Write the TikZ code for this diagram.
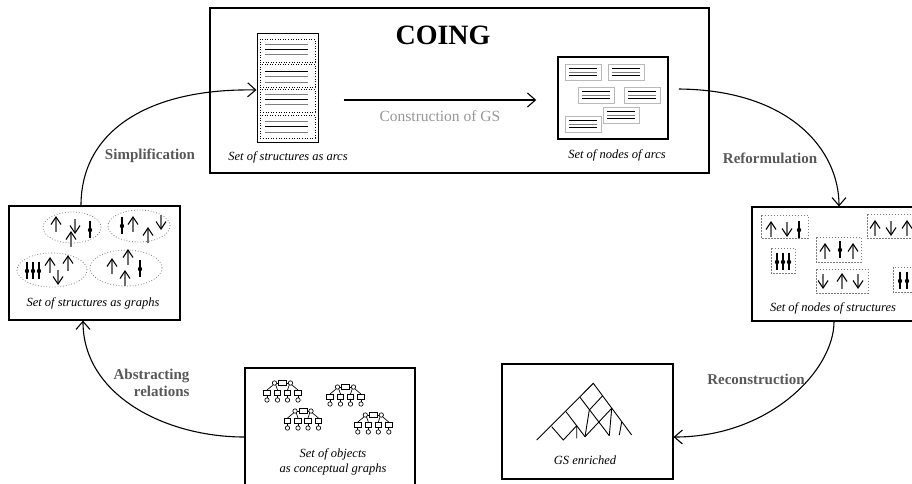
\documentclass[tikz,border=0pt]{standalone}
\usepackage{fontspec}
\setmainfont{Liberation Serif}
\usetikzlibrary{arrows.meta,calc}
\definecolor{lblgray}{RGB}{88,88,88}
\definecolor{cstgray}{RGB}{150,150,150}
\definecolor{stemgray}{RGB}{110,110,110}
\definecolor{linegray}{RGB}{125,125,125}
\definecolor{framegray}{RGB}{185,185,185}
\tikzset{
  upglyph/.pic={
    \draw[line width=1.1pt, stemgray] (0,-6.5) -- (0,7.5);
    \draw[line width=1.1pt] (-5,0.5) -- (0,-7) -- (5,0.5);
  },
  downglyph/.pic={
    \draw[line width=1.1pt, stemgray] (0,-7.5) -- (0,6.5);
    \draw[line width=1.1pt] (-5,-0.5) -- (0,7) -- (5,-0.5);
  },
  dotglyph/.pic={
    \draw[line width=1.6pt] (0,-8.5) -- (0,8.5);
    \fill (0,1) circle[radius=2.2pt];
  },
  cgraph/.pic={
    \begin{scope}[line width=0.65pt]
      \draw (-8,0) circle[radius=2.2pt];
      \draw (8,0) circle[radius=2.2pt];
      \draw (-4,-2.2) rectangle (4,2.2);
      \draw (-5.8,0) -- (-4,0) (4,0) -- (5.8,0);
      \draw (-9.2,1.8) -- (-15.5,7) (-6.8,1.8) -- (-5,7);
      \draw (6.8,1.8) -- (5,7) (9.2,1.8) -- (15.5,7);
      \foreach \cx in {-15.5,-5,5,15.5} {
        \draw (\cx-3.2,7) rectangle (\cx+3.2,12.5);
        \draw (\cx,12.5) -- (\cx,14.8);
        \draw (\cx,17) circle[radius=2.2pt];
      }
    \end{scope}
  },
}
\begin{document}
\begin{tikzpicture}[x=1pt,y=-1pt,
  box/.style={draw, line width=1.2pt, inner sep=0pt},
  captxt/.style={font=\itshape\fontsize{12.5}{14}\selectfont},
  steplbl/.style={font=\bfseries\fontsize{15}{17}\selectfont, text=lblgray},
  arr/.style={line width=1.1pt, -{Straight Barb[length=8pt,width=14pt,line width=1.1pt]}},
  ell/.style={draw=linegray, dotted, line width=0.8pt},
  grp/.style={draw=linegray, dash pattern=on 1.5pt off 1.5pt, line width=0.6pt},
  smallbox/.style={draw=framegray, line width=0.9pt},
]
\useasboundingbox (0,0) rectangle (912,483);

% ---------- main boxes ----------
\node[box, minimum width=499pt, minimum height=165pt] (coing) at (459.5,90.5) {};
\node[box, line width=1pt, minimum width=61pt, minimum height=109pt] (docs) at (287.5,87.5) {};
\node[box, line width=1.5pt, minimum width=110pt, minimum height=82pt] (nodesbox) at (613,98) {};
\node[box, minimum width=164pt, minimum height=114pt] (strnodes) at (834,264) {};
\node[box, minimum width=171pt, minimum height=115pt] (gs) at (587.5,421.5) {};
\node[box, minimum width=170pt, minimum height=138pt] (objects) at (330,437) {};
\node[box, minimum width=171pt, minimum height=114pt] (graphs) at (94.5,263) {};

% ---------- titles and captions ----------
\node[font=\bfseries\fontsize{28}{30}\selectfont] (title) at (443,35) {COING};
\node[captxt] (capdocs) at (288,157) {Set of structures as arcs};
\node[captxt] (capnodes) at (617,155) {Set of nodes of arcs};
\node[captxt] (capstr) at (833,308) {Set of nodes of structures};
\node[captxt] (capgs) at (585,460) {GS enriched};
\node[captxt, align=center] (capobj) at (333,462) {Set of objects\\[1pt]as conceptual graphs};
\node[captxt] (capgraphs) at (93,303) {Set of structures as graphs};

% ---------- structures as arcs ----------
\foreach \ya/\yb in {39/62,64/87,89/112,115/138}
  \draw[dotted, line width=0.6pt] (260,\ya) rectangle (315,\yb);
\foreach \y/\c in {44/linegray,49/black,54/linegray,71/black,76/linegray,82/linegray,
                   94/linegray,99/black,104/linegray,121/linegray,126/black,132/linegray}
  \draw[line width=1pt, \c] (265,\y) -- (308,\y);

% ---------- nodes of arcs ----------
\foreach \x/\y in {565/64,608/64,578/87,624/87,603/107,565/116} {
  \draw[smallbox] (\x,\y) rectangle ++(36,16);
  \draw[line width=0.9pt] (\x+4,\y+4.5) -- (\x+32,\y+4.5);
  \draw[line width=0.9pt, linegray] (\x+4,\y+8) -- (\x+32,\y+8);
  \draw[line width=0.9pt] (\x+4,\y+11.5) -- (\x+32,\y+11.5);
}

% ---------- construction arrow ----------
\draw[arr] ($(docs.east)+(25,12.5)$) -- ($(nodesbox.west)+(-21,2)$)
  node[midway, below=7pt, text=cstgray, font=\fontsize{15.5}{17}\selectfont] (cst) {Construction of GS};

% ---------- nodes of structures ----------
\draw[grp] (761,215) rectangle (808,238);
\pic at (771,229) {upglyph}; \pic at (787,229) {downglyph}; \pic at (799,229) {dotglyph};
\draw[grp] (867,214) rectangle (916,238);
\pic at (875,228) {upglyph}; \pic at (891,228) {downglyph}; \pic at (907,228) {upglyph};
\draw[grp] (771,248) rectangle (795,273);
\pic at (777,261) {dotglyph}; \pic at (783,261) {dotglyph}; \pic at (789,261) {dotglyph};
\draw[grp] (816,237) rectangle (861,262);
\pic at (825,251) {upglyph}; \pic at (840,249) {dotglyph}; \pic at (853,251) {upglyph};
\draw[grp] (816,269) rectangle (868,293);
\pic at (823,281) {downglyph}; \pic at (842,281) {upglyph}; \pic at (858,281) {downglyph};
\draw[grp] (893,267) rectangle (916,292);
\pic at (900,280) {dotglyph}; \pic at (907,280) {dotglyph};

% ---------- structures as graphs ----------
\draw[ell] (72,227.5) ellipse[x radius=29pt, y radius=15.5pt];
\pic at (56,224) {upglyph}; \pic at (75,226) {downglyph};
\pic at (71,239) {upglyph}; \pic at (90,229) {dotglyph};
\draw[ell] (139,226) ellipse[x radius=31pt, y radius=16pt];
\pic at (122,225) {dotglyph}; \pic at (133,224) {upglyph};
\pic at (148,235) {upglyph}; \pic at (161,222) {downglyph};
\draw[ell] (52,270) ellipse[x radius=35pt, y radius=17pt];
\pic at (27,270) {dotglyph}; \pic at (33,270) {dotglyph}; \pic at (39,270) {dotglyph};
\pic at (50,265) {upglyph}; \pic at (58,277) {downglyph}; \pic at (68,263) {upglyph};
\draw[ell] (126,268) ellipse[x radius=36pt, y radius=18pt];
\pic at (112,266) {upglyph}; \pic at (128,257) {upglyph};
\pic at (125,278) {upglyph}; \pic at (140,268) {dotglyph};

% ---------- conceptual graphs ----------
\pic at (282.5,383) {cgraph};
\pic at (345.5,387) {cgraph};
\pic at (303,411) {cgraph};
\pic at (373.3,415) {cgraph};

% ---------- enriched GS lattice ----------
\begin{scope}[line width=0.9pt]
  \draw (536.7,440) -- (593.3,383.3) -- (631.7,435);
  \draw (580,397.3) -- (609.3,435.7);
  \draw (602.7,395.7) -- (589.3,410) -- (585,436.7);
  \draw (611.7,408.3) -- (585,436.7);
  \draw (566,411.7) -- (585,436.7);
  \draw (551.7,426.7) -- (563.3,440) -- (576.7,425.7) -- (576.7,438.3);
  \draw (611.7,408.3) -- (609.3,435.7);
  \draw (621.7,421.7) -- (619.3,435);
\end{scope}

% ---------- cycle arrows ----------
\draw[arr] ([xshift=-13.5pt]graphs.north) .. controls (81,130) and (150,88) .. ([yshift=-2.5pt]docs.west);
\node[steplbl] (lsimp) at (150,156) {Simplification};
\draw[arr] ([xshift=10pt,yshift=9pt]nodesbox.east) .. controls (790,90) and (839,150) .. ([xshift=5pt]strnodes.north);
\node[steplbl] (lref) at (770,158) {Reformulation};
\draw[arr] (strnodes.south) .. controls (834,370) and (770,437) .. ([yshift=-15.5pt]gs.east);
\node[steplbl] (lrec) at (756,379) {Reconstruction};
\draw[arr] (objects.west) .. controls (165,437) and (83,395) .. ([xshift=-11.5pt]graphs.south);
\node[steplbl, align=right, anchor=east] (labs) at (193,382.5) {Abstracting\\relations};
\end{tikzpicture}
\end{document}
